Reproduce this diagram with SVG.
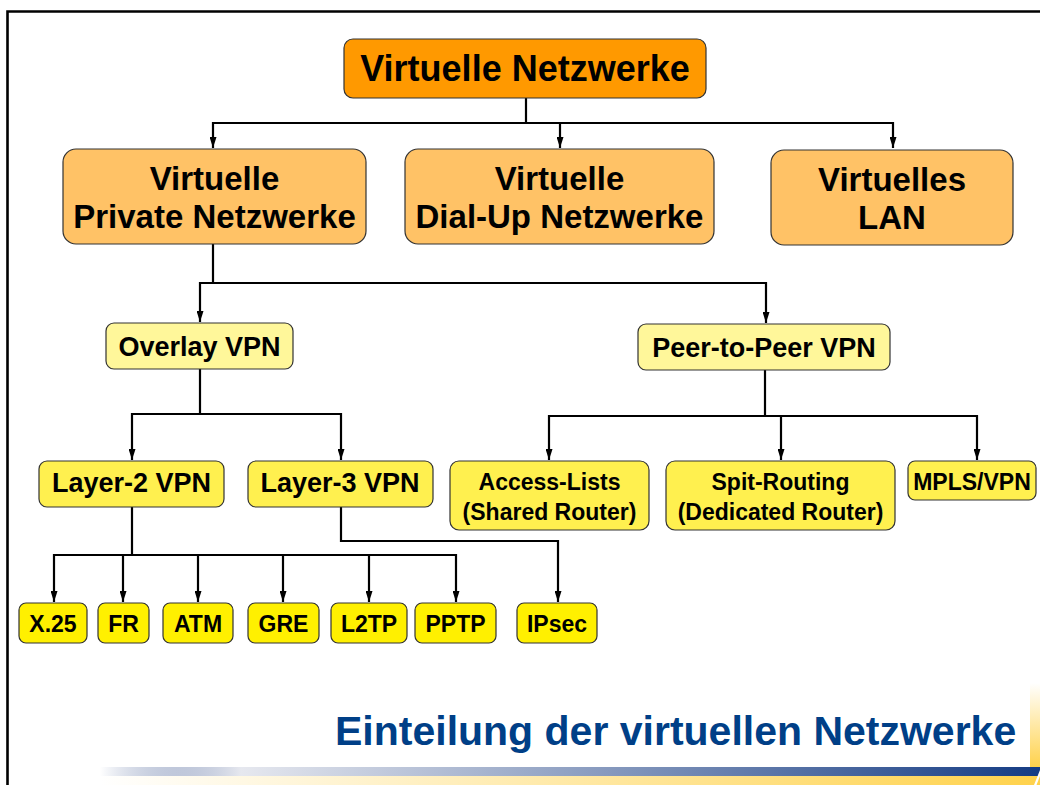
<svg xmlns="http://www.w3.org/2000/svg" width="1040" height="785" viewBox="0 0 1040 785">
<style>
.box{stroke:#333;stroke-width:1.2}
.t{font-family:"Liberation Sans",Arial,sans-serif;font-weight:bold;fill:#000;text-anchor:middle}
.c{fill:none;stroke:#000;stroke-width:2.2}
.top{fill:#FF9900}
.l2{fill:#FFC266}
.l3{fill:#FFF79A}
.l4{fill:#FFF04F}
.l5{fill:#FFF000}
</style>
<defs>
<marker id="ah" markerUnits="userSpaceOnUse" markerWidth="11" markerHeight="7" viewBox="0 0 11 7" refX="11" refY="3.5" orient="auto">
<path d="M0,0 L11,3.5 L0,7 z" fill="#000"/>
</marker>
<linearGradient id="gb" x1="0" y1="0" x2="1" y2="0">
<stop offset="0" stop-color="#1E3C80" stop-opacity="0"/>
<stop offset="0.15" stop-color="#E6E8EF"/>
<stop offset="1" stop-color="#153C84"/>
</linearGradient>
<linearGradient id="gy" x1="0" y1="0" x2="1" y2="0">
<stop offset="0" stop-color="#FFD24C" stop-opacity="0"/>
<stop offset="1" stop-color="#FFD24C"/>
</linearGradient>
<linearGradient id="gv" x1="0" y1="0" x2="0" y2="1">
<stop offset="0" stop-color="#FFD24C" stop-opacity="0"/>
<stop offset="1" stop-color="#FFD24C"/>
</linearGradient>
</defs>
<rect width="1040" height="785" fill="#fff"/>
<!-- frame -->
<path d="M7.5,785 V11.5 H1040" fill="none" stroke="#000" stroke-width="2.6"/>
<!-- bottom decoration -->
<rect x="1030" y="683" width="10" height="84" fill="url(#gv)"/>
<rect x="100" y="767" width="940" height="9" fill="url(#gb)"/>
<rect x="100" y="776" width="940" height="9" fill="url(#gy)"/>
<path d="M1040,770 L1034,785 L1036.5,785 L1040,776 z" fill="#fff"/>
<text x="335" y="745" font-family="Liberation Sans,Arial,sans-serif" font-weight="bold" font-size="41" fill="#003F87">Einteilung der virtuellen Netzwerke</text>

<g id="connectors">
<path class="c" d="M526,98 V123 H213 V148" marker-end="url(#ah)"/>
<path class="c" d="M526,123 H560 V148" marker-end="url(#ah)"/>
<path class="c" d="M526,123 H893 V148" marker-end="url(#ah)"/>
<path class="c" d="M213,244 V283 H200 V322" marker-end="url(#ah)"/>
<path class="c" d="M213,283 H766 V323" marker-end="url(#ah)"/>
<path class="c" d="M200,369 V414 H132 V460" marker-end="url(#ah)"/>
<path class="c" d="M200,414 H341 V460" marker-end="url(#ah)"/>
<path class="c" d="M765,370 V416 H549 V460" marker-end="url(#ah)"/>
<path class="c" d="M765,416 H781 V460" marker-end="url(#ah)"/>
<path class="c" d="M765,416 H977 V460" marker-end="url(#ah)"/>
<path class="c" d="M132,507 V555 H54 V602" marker-end="url(#ah)"/>
<path class="c" d="M132,555 H123 V602" marker-end="url(#ah)"/>
<path class="c" d="M132,555 H198 V602" marker-end="url(#ah)"/>
<path class="c" d="M132,555 H283 V602" marker-end="url(#ah)"/>
<path class="c" d="M132,555 H369 V602" marker-end="url(#ah)"/>
<path class="c" d="M132,555 H456 V602" marker-end="url(#ah)"/>
<path class="c" d="M341,507 V541 H558 V602" marker-end="url(#ah)"/>
</g>

<g id="n-root">
<rect class="box top" x="344" y="39" width="362" height="59" rx="9"/>
<text class="t" x="525" y="81" font-size="36">Virtuelle Netzwerke</text>
</g>
<g id="n-vpn">
<rect class="box l2" x="63" y="149" width="303" height="95" rx="13"/>
<text class="t" x="214.5" y="190" font-size="33">Virtuelle</text>
<text class="t" x="214.5" y="228" font-size="33">Private Netzwerke</text>
</g>
<g id="n-dialup">
<rect class="box l2" x="405" y="149" width="309" height="95" rx="13"/>
<text class="t" x="559.5" y="190" font-size="33">Virtuelle</text>
<text class="t" x="559.5" y="228" font-size="33">Dial-Up Netzwerke</text>
</g>
<g id="n-vlan">
<rect class="box l2" x="771" y="150" width="242" height="95" rx="13"/>
<text class="t" x="892" y="191" font-size="33">Virtuelles</text>
<text class="t" x="892" y="229" font-size="33">LAN</text>
</g>
<g id="n-overlay">
<rect class="box l3" x="106" y="323" width="187" height="46" rx="8"/>
<text class="t" x="199.5" y="356" font-size="27">Overlay VPN</text>
</g>
<g id="n-p2p">
<rect class="box l3" x="638" y="324" width="252" height="46" rx="8"/>
<text class="t" x="764" y="357" font-size="27">Peer-to-Peer VPN</text>
</g>
<g id="n-l2">
<rect class="box l4" x="39" y="461" width="185" height="46" rx="8"/>
<text class="t" x="131.5" y="492" font-size="27">Layer-2 VPN</text>
</g>
<g id="n-l3">
<rect class="box l4" x="248" y="461" width="185" height="46" rx="8"/>
<text class="t" x="340" y="492" font-size="27">Layer-3 VPN</text>
</g>
<g id="n-acl">
<rect class="box l4" x="450" y="461" width="199" height="69" rx="9"/>
<text class="t" x="549.5" y="490" font-size="23">Access-Lists</text>
<text class="t" x="549.5" y="520" font-size="23">(Shared Router)</text>
</g>
<g id="n-split">
<rect class="box l4" x="666" y="461" width="229" height="69" rx="9"/>
<text class="t" x="780.5" y="490" font-size="23">Spit-Routing</text>
<text class="t" x="780.5" y="520" font-size="23">(Dedicated Router)</text>
</g>
<g id="n-mpls">
<rect class="box l4" x="908" y="461" width="128" height="39" rx="7"/>
<text class="t" x="972" y="490" font-size="23">MPLS/VPN</text>
</g>
<g id="n-x25">
<rect class="box l5" x="19" y="603" width="68" height="40" rx="7"/>
<text class="t" x="53" y="632" font-size="23">X.25</text>
</g>
<g id="n-fr">
<rect class="box l5" x="98" y="603" width="51" height="40" rx="7"/>
<text class="t" x="123.5" y="632" font-size="23">FR</text>
</g>
<g id="n-atm">
<rect class="box l5" x="163" y="603" width="70" height="40" rx="7"/>
<text class="t" x="198" y="632" font-size="23">ATM</text>
</g>
<g id="n-gre">
<rect class="box l5" x="248" y="603" width="71" height="40" rx="7"/>
<text class="t" x="283.5" y="632" font-size="23">GRE</text>
</g>
<g id="n-l2tp">
<rect class="box l5" x="331" y="603" width="76" height="40" rx="7"/>
<text class="t" x="369" y="632" font-size="23">L2TP</text>
</g>
<g id="n-pptp">
<rect class="box l5" x="415" y="603" width="81" height="40" rx="7"/>
<text class="t" x="455.5" y="632" font-size="23">PPTP</text>
</g>
<g id="n-ipsec">
<rect class="box l5" x="517" y="603" width="80" height="40" rx="7"/>
<text class="t" x="557" y="632" font-size="23">IPsec</text>
</g>
</svg>
